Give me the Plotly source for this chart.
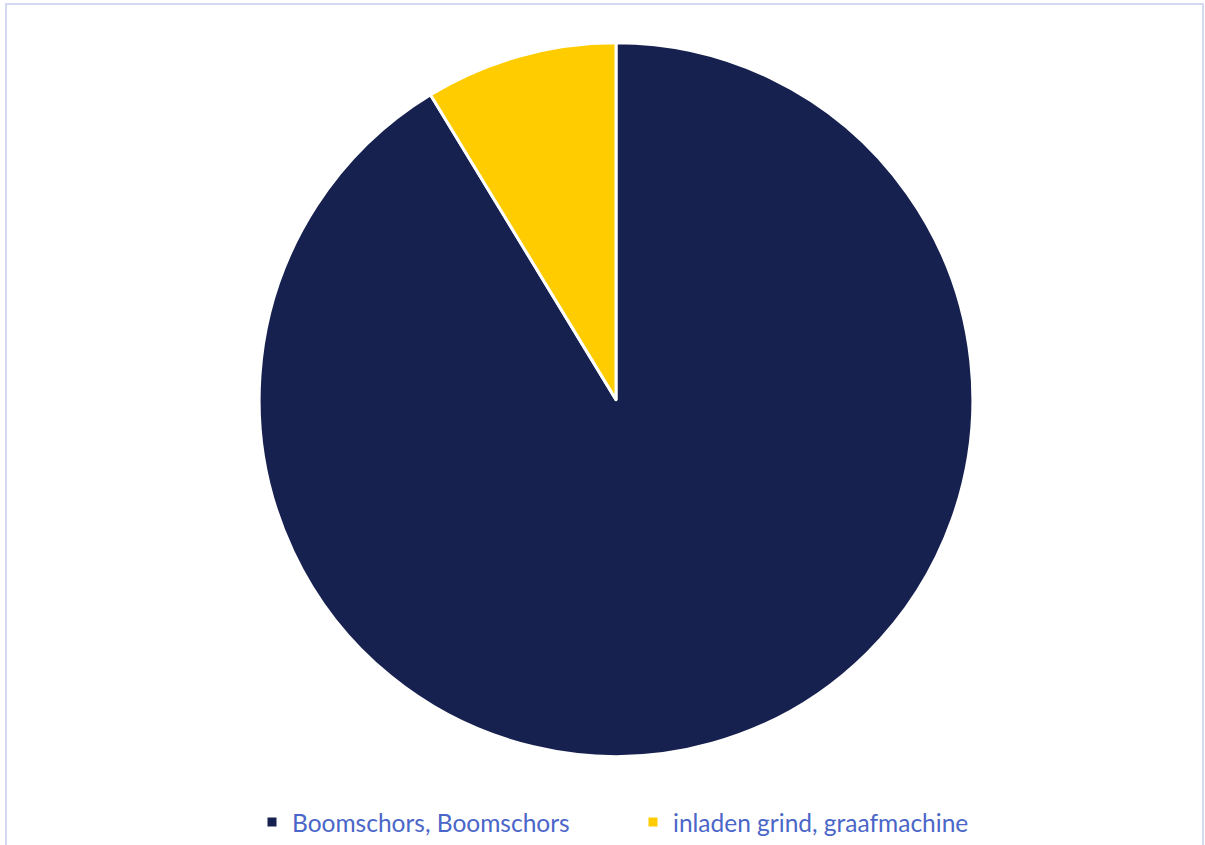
import plotly.graph_objects as go

# Slice data
labels = ["Boomschors, Boomschors", "inladen grind, graafmachine"]
values = [91.3, 8.7]
colors = ["#17214F", "#FFCC00"]

W, H = 1205, 845
cx, cy, r = 616, 402, 359

fig = go.Figure(
    go.Pie(
        labels=labels,
        values=values,
        sort=False,
        direction="clockwise",
        rotation=0,
        marker=dict(colors=colors, line=dict(color="white", width=3)),
        textinfo="none",
        hoverinfo="label+percent",
        domain=dict(
            x=[(cx - r) / W, (cx + r) / W],
            y=[1 - (cy + r) / H, 1 - (cy - r) / H],
        ),
    )
)

# light frame around the chart area
fig.add_shape(
    type="rect", xref="paper", yref="paper",
    x0=6 / W, x1=1203 / W, y0=-0.02, y1=1 - 4 / H,
    line=dict(color="#D3D9F2", width=2),
)

fig.update_layout(
    width=W,
    height=H,
    margin=dict(l=0, r=0, t=0, b=0),
    paper_bgcolor="white",
    plot_bgcolor="white",
    showlegend=True,
    legend=dict(
        orientation="h",
        x=(272 - 20) / W,
        xanchor="left",
        y=1 - 827 / H,
        yanchor="middle",
        entrywidth=336,
        entrywidthmode="pixels",
        itemwidth=30,
        font=dict(family="Lato, Calibri, sans-serif", size=24.5, color="#4A66C8"),
        bgcolor="rgba(0,0,0,0)",
    ),
)

fig.write_html("out.html")
